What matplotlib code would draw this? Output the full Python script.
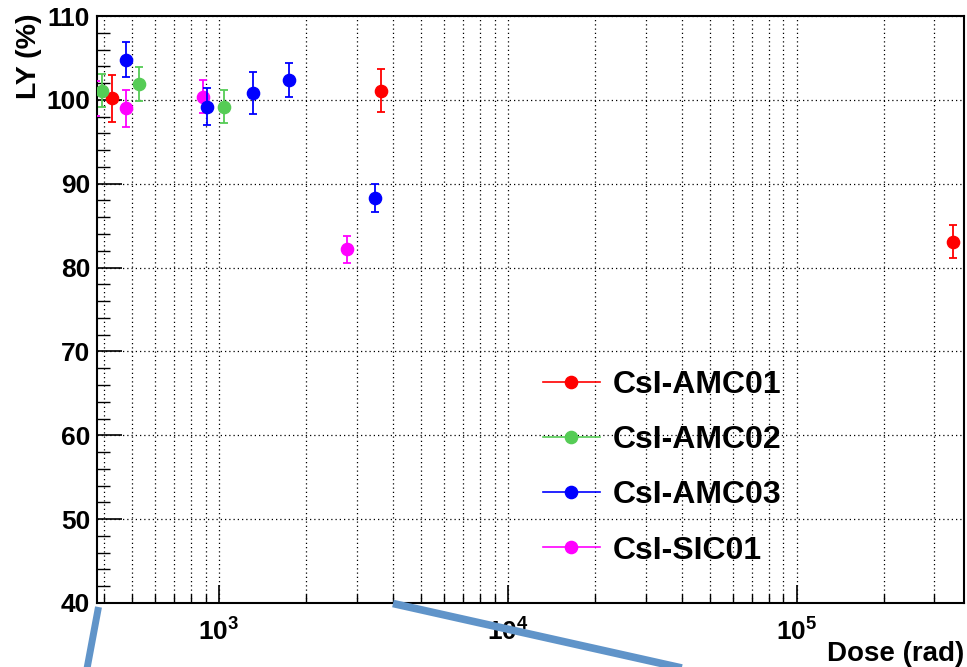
import matplotlib
matplotlib.use("Agg")
import matplotlib.pyplot as plt
from matplotlib.lines import Line2D
from matplotlib.ticker import LogLocator, MultipleLocator, NullFormatter

plt.rcParams["font.family"] = ["Liberation Sans", "DejaVu Sans"]
plt.rcParams["font.weight"] = "bold"
plt.rcParams["mathtext.fontset"] = "custom"
plt.rcParams["mathtext.rm"] = "Liberation Sans:bold"
plt.rcParams["mathtext.bf"] = "Liberation Sans:bold"
plt.rcParams["mathtext.it"] = "Liberation Sans:bold"

# dose (rad) vs relative light yield (%)
labels = ["CsI-AMC01", "CsI-AMC02", "CsI-AMC03", "CsI-SIC01"]
colors = ["#ff0000", "#55cc55", "#0000ff", "#ff00ff"]

dose_amc01 = [427, 3631, 349000]
ly_amc01 = [100.2, 101.1, 83.1]
err_amc01 = [2.8, 2.6, 2.0]

dose_amc02 = [392, 527, 1040]
ly_amc02 = [101.1, 101.9, 99.2]
err_amc02 = [2.0, 2.0, 2.0]

dose_amc03 = [478, 907, 1313, 1754, 3475]
ly_amc03 = [104.8, 99.2, 100.8, 102.4, 88.3]
err_amc03 = [2.1, 2.2, 2.5, 2.0, 1.7]

dose_sic01 = [376, 478, 879, 2767]
ly_sic01 = [100.2, 99.0, 100.4, 82.2]
err_sic01 = [2.1, 2.2, 2.0, 1.6]

series = [
    (dose_amc01, ly_amc01, err_amc01),
    (dose_amc02, ly_amc02, err_amc02),
    (dose_amc03, ly_amc03, err_amc03),
    (dose_sic01, ly_sic01, err_sic01),
]

fig = plt.figure(figsize=(9.67, 6.67), dpi=100)
ax = fig.add_axes([97 / 967, 1 - 603 / 667, 867 / 967, 587 / 667])

zorders = [4, 5, 6, 3]
for (x, y, e), c, lab, z in zip(series, colors, labels, zorders):
    line, caps, bars = ax.errorbar(x, y, yerr=e, fmt="o", color=c, ms=8.8, mec=c,
                                   elinewidth=1.3, capsize=2.8, capthick=1.3, zorder=z)
    if lab == "CsI-SIC01":
        # first point sits just left of the frame: keep only its error bar
        line.set_markevery(list(range(1, len(x))))

ax.set_xscale("log")
ax.set_xlim(378, 3.8e5)
ax.set_ylim(40, 110)

ax.xaxis.set_major_locator(LogLocator(base=10, numticks=10))
ax.xaxis.set_minor_locator(LogLocator(base=10, subs=range(2, 10), numticks=20))
ax.xaxis.set_minor_formatter(NullFormatter())
ax.yaxis.set_major_locator(MultipleLocator(10))
ax.yaxis.set_minor_locator(MultipleLocator(2))

ax.grid(True, which="major", axis="y", color="black", lw=0.9, ls=(0, (1, 2.4)))
ax.grid(True, which="both", axis="x", color="black", lw=0.9, ls=(0, (1, 2.4)))
ax.set_axisbelow(True)

ax.tick_params(axis="x", which="major", direction="in", length=13, width=1.2,
               labelsize=19, pad=11, top=False)
ax.tick_params(axis="x", which="minor", direction="in", length=6.5, width=1.0, top=False)
ax.tick_params(axis="y", which="major", direction="in", length=18, width=1.2,
               labelsize=19, pad=5, right=False)
ax.tick_params(axis="y", which="minor", direction="in", length=9, width=1.0, right=False)
for s in ax.spines.values():
    s.set_linewidth(1.5)

ax.set_xlabel("Dose (rad)", fontsize=20, fontweight="bold", loc="right")
ax.xaxis.set_label_coords(1.0, -0.064)
ax.set_ylabel("LY (%)", fontsize=20.5, fontweight="bold", loc="top")
ax.yaxis.set_label_coords(-0.063, 1.005)

handles = [Line2D([], [], color=c, lw=1.2, marker="o", ms=8.8) for c in colors]
ax.legend(handles, labels, loc="upper left", bbox_to_anchor=(0.514, 0.397),
          frameon=False, prop={"weight": "bold", "size": 23},
          handlelength=1.8, handletextpad=0.4, labelspacing=0.79,
          borderpad=0, borderaxespad=0)

# pointer strokes running off the bottom of the frame
blue = "#6094c9"
fig.add_artist(Line2D([98.5 / 967, 83 / 967], [1 - 607 / 667, 1 - 690 / 667],
                      transform=fig.transFigure, color=blue, lw=5, solid_capstyle="butt"))
fig.add_artist(Line2D([393 / 967, 740 / 967], [1 - 603.5 / 667, 1 - 681 / 667],
                      transform=fig.transFigure, color=blue, lw=5.5, solid_capstyle="butt"))

fig.savefig("out.png", dpi=100, facecolor="white")
